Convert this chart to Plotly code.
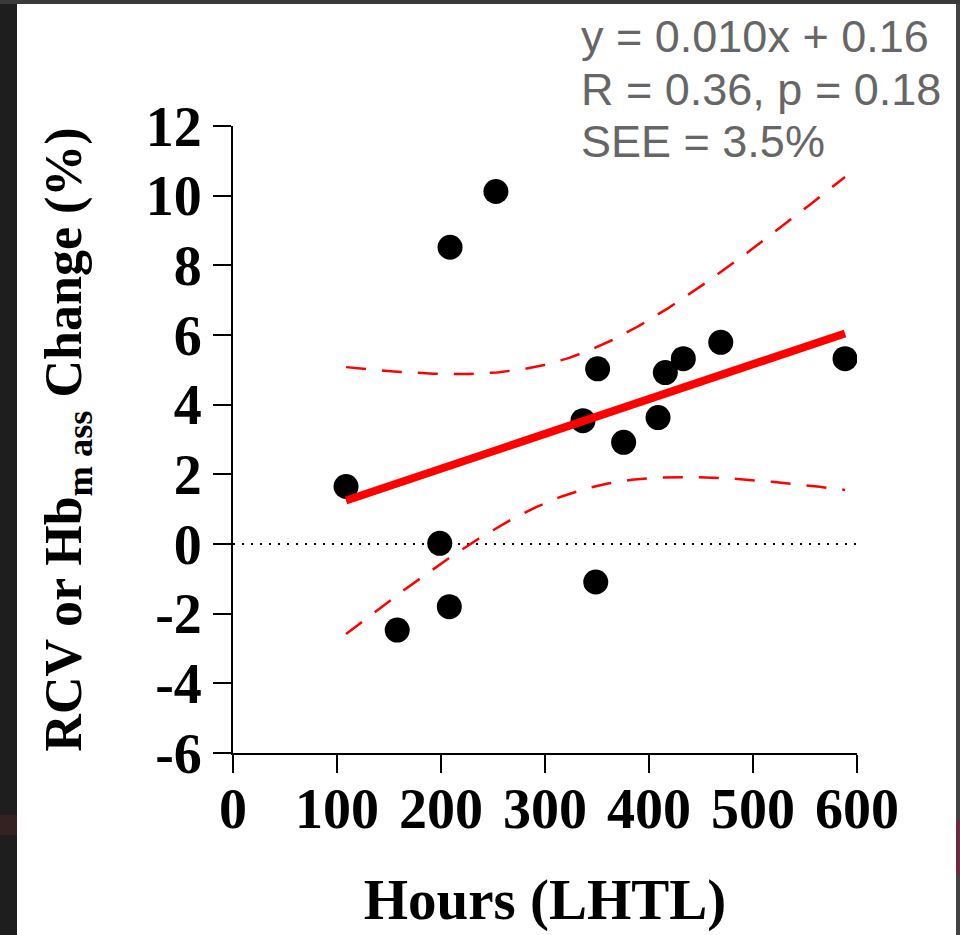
import numpy as np
import plotly.graph_objects as go

# ---- data ----
hours = [108.7, 157.9, 198.8, 208.7, 208.0, 252.8, 336.5, 350.6, 348.8,
         375.6, 408.7, 415.7, 433.0, 469.0, 588.5]
change = [1.65, -2.47, 0.02, 8.52, -1.80, 10.12, 3.54, 5.03, -1.09,
          2.92, 3.63, 4.92, 5.32, 5.79, 5.32]

slope = 0.010
intercept = 0.16
r_value = 0.36
p_value = 0.18
see = 3.5
t_crit = 2.160  # t(0.975, df = n-2 = 13)

x_ticks = [0, 100, 200, 300, 400, 500, 600]
y_ticks = [-6, -4, -2, 0, 2, 4, 6, 8, 10, 12]
y_tick_text = ["-6", "-4", "-2", "0", "2", "4", "6", "8", "10", "12"]

# ---- regression line and 95% confidence band ----
x = np.array(hours)
n = len(x)
xm = x.mean()
sxx = ((x - xm) ** 2).sum()
xs = np.linspace(x.min(), x.max(), 200)
yfit = slope * xs + intercept
half = t_crit * see * np.sqrt(1.0 / n + (xs - xm) ** 2 / sxx)

# ---- layout geometry (pixels) ----
W, H = 960, 935
L, R, T, B = 233, 103, 126, 182
pw, ph = W - L - R, H - T - B


def px(xp):
    return (xp - L) / pw


def py(yp):
    return (H - B - yp) / ph


fig = go.Figure()

fig.add_trace(go.Scatter(x=[x_ticks[0], x_ticks[-1]], y=[0, 0], mode="lines",
                         line=dict(color="black", width=2, dash="2px,7px"),
                         hoverinfo="skip", showlegend=False))
fig.add_trace(go.Scatter(x=xs, y=yfit + half, mode="lines",
                         line=dict(color="#ff0000", width=2.5, dash="20px,16px"),
                         showlegend=False))
fig.add_trace(go.Scatter(x=xs, y=yfit - half, mode="lines",
                         line=dict(color="#ff0000", width=2.5, dash="20px,16px"),
                         showlegend=False))
fig.add_trace(go.Scatter(x=hours, y=change, mode="markers",
                         marker=dict(color="black", size=25, line=dict(width=0)),
                         showlegend=False))
fig.add_trace(go.Scatter(x=[xs[0], xs[-1]], y=[yfit[0], yfit[-1]], mode="lines",
                         line=dict(color="#ff0000", width=8),
                         showlegend=False))

serif = "Liberation Serif, Times New Roman, serif"
sans = "Liberation Sans, Arial, sans-serif"

fig.update_xaxes(range=[0, 600], tickvals=x_ticks, ticks="outside", ticklen=18,
                 tickwidth=2, tickcolor="black", showline=True, linecolor="black",
                 linewidth=2, showgrid=False, zeroline=False, ticklabelstandoff=-12,
                 tickfont=dict(family=serif, size=56, color="black", weight="bold"),
                 title=dict(text="Hours (LHTL)", standoff=40,
                            font=dict(family=serif, size=57, color="black", weight="bold")))
fig.update_yaxes(range=[-6, 12], tickvals=y_ticks, ticktext=y_tick_text,
                 ticks="outside", ticklen=18,
                 tickwidth=2, tickcolor="black", showline=True, linecolor="black",
                 linewidth=2, showgrid=False, zeroline=False,
                 tickfont=dict(family=serif, size=56, color="black", weight="bold"),
                 title=dict(text="RCV or Hb<sub>m ass</sub> Change (%)", standoff=48,
                            font=dict(family=serif, size=52, color="black", weight="bold")))

lines = [f"y = {slope:.3f}x + {intercept:.2f}",
         f"R = {r_value:.2f}, p = {p_value:.2f}",
         f"SEE = {see:.1f}%"]
for i, (txt, yc) in enumerate(zip(lines, [37, 89, 142])):
    fig.add_annotation(x=px(579), y=py(yc), xref="paper", yref="paper",
                       text=txt, showarrow=False, xanchor="left", yanchor="middle",
                       font=dict(family=sans, size=45, color="#666666"))

shapes = [
    dict(type="rect", xref="paper", yref="paper", x0=px(17), x1=px(956),
         y0=py(4), y1=py(H + 5), fillcolor="white", line=dict(width=0), layer="below"),
    dict(type="rect", xref="paper", yref="paper", x0=px(-5), x1=px(17),
         y0=py(4), y1=py(H + 5), fillcolor="#1e1e1e", line=dict(width=0), layer="below"),
    dict(type="rect", xref="paper", yref="paper", x0=px(-5), x1=px(17),
         y0=py(815), y1=py(835), fillcolor="#33221f", line=dict(width=0), layer="below"),
    dict(type="rect", xref="paper", yref="paper", x0=px(956), x1=px(W + 5),
         y0=py(4), y1=py(H + 5), fillcolor="#444444", line=dict(width=0), layer="below"),
    dict(type="rect", xref="paper", yref="paper", x0=px(956), x1=px(W + 5),
         y0=py(820), y1=py(875), fillcolor="#6a2a40", line=dict(width=0), layer="below"),
]

fig.update_layout(width=W, height=H, margin=dict(l=L, r=R, t=T, b=B),
                  paper_bgcolor="#3a3a3a", plot_bgcolor="white",
                  shapes=shapes, showlegend=False)

fig.write_html("out.html")
